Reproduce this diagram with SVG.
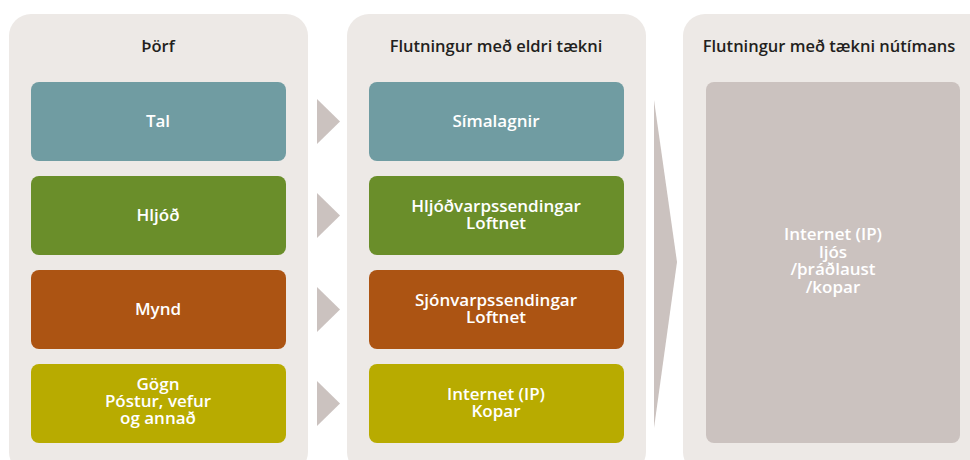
<svg xmlns="http://www.w3.org/2000/svg" width="970" height="460" viewBox="0 0 970 460">
<style>
.panel{fill:#ede9e6}
.hdr{font-family:"Open Sans",Lato,"DejaVu Sans",sans-serif;font-weight:600;font-size:16.5px;fill:#231f20;text-anchor:middle}
.lbl{font-family:"Open Sans",Lato,"DejaVu Sans",sans-serif;font-weight:600;font-size:17px;fill:#ffffff;text-anchor:middle}
.arr{fill:#cbc2bf}
.teal{fill:#709ca2}.green{fill:#6a8e2a}.orange{fill:#ac5413}.olive{fill:#b8ab00}.gray{fill:#cbc2bf}
</style>
<rect width="970" height="460" fill="#ffffff"/>
<g id="panel1">
<rect class="panel" x="9" y="14" width="299" height="460" rx="22"/>
<text class="hdr" x="158" y="52">Þörf</text>
</g>
<g id="panel2">
<rect class="panel" x="347" y="14" width="299" height="460" rx="22"/>
<text class="hdr" x="496" y="52">Flutningur með eldri tækni</text>
</g>
<g id="panel3">
<rect class="panel" x="683" y="14" width="320" height="460" rx="22"/>
<text class="hdr" x="829" y="52">Flutningur með tækni nútímans</text>
</g>
<g id="tal"><rect class="teal" x="31" y="82" width="255" height="79" rx="8"/><text class="lbl" x="158" y="127">Tal</text></g>
<g id="hljod"><rect class="green" x="31" y="176" width="255" height="79" rx="8"/><text class="lbl" x="158" y="221">Hljóð</text></g>
<g id="mynd"><rect class="orange" x="31" y="270" width="255" height="79" rx="8"/><text class="lbl" x="158" y="315">Mynd</text></g>
<g id="gogn"><rect class="olive" x="31" y="364" width="255" height="79" rx="8"/><text class="lbl" x="158" y="390">Gögn<tspan x="158" dy="17">Póstur, vefur</tspan><tspan x="158" dy="17">og annað</tspan></text></g>
<g id="simalagnir"><rect class="teal" x="369" y="82" width="255" height="79" rx="8"/><text class="lbl" x="496" y="127">Símalagnir</text></g>
<g id="hljodvarp"><rect class="green" x="369" y="176" width="255" height="79" rx="8"/><text class="lbl" x="496" y="212">Hljóðvarpssendingar<tspan x="496" dy="17">Loftnet</tspan></text></g>
<g id="sjonvarp"><rect class="orange" x="369" y="270" width="255" height="79" rx="8"/><text class="lbl" x="496" y="306">Sjónvarpssendingar<tspan x="496" dy="17">Loftnet</tspan></text></g>
<g id="internet-kopar"><rect class="olive" x="369" y="364" width="255" height="79" rx="8"/><text class="lbl" x="496" y="400">Internet (IP)<tspan x="496" dy="17">Kopar</tspan></text></g>
<g id="nutiminn"><rect class="gray" x="706" y="82" width="254" height="361" rx="8"/><text class="lbl" x="833" y="240">Internet (IP)<tspan x="833" dy="17.5">ljós</tspan><tspan x="833" dy="17.5">/þráðlaust</tspan><tspan x="833" dy="17.5">/kopar</tspan></text></g>
<g id="connectors">
<polygon class="arr" points="317,99 340,121.5 317,144"/>
<polygon class="arr" points="317,193 340,215.5 317,238"/>
<polygon class="arr" points="317,287 340,309.5 317,332"/>
<polygon class="arr" points="317,381 340,403.5 317,426"/>
<polygon class="arr" points="654,100 677,262 654,428"/>
</g>
</svg>
